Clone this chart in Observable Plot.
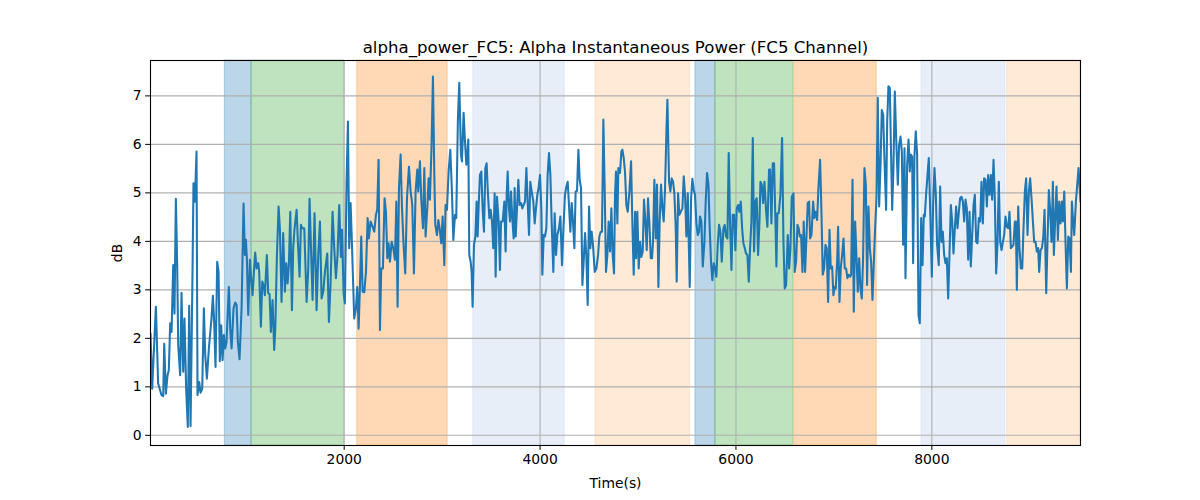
<!DOCTYPE html>
<html><head><meta charset="utf-8">
<script src="https://cdn.jsdelivr.net/npm/d3@7"></script>
<script src="https://cdn.jsdelivr.net/npm/@observablehq/plot@0.6"></script>
<style>body{margin:0;background:#fff;}</style>
</head><body><div id="chart"></div>
<script>
const chartTitle = "alpha_power_FC5: Alpha Instantaneous Power (FC5 Channel)";
const xLabel = "Time(s)";
const yLabel = "dB";
const xTicks = [2000, 4000, 6000, 8000];
const yTicks = [0, 1, 2, 3, 4, 5, 6, 7];

const time = [
22,39,77,100,134,152,162,179,196,209,223,237,254,267,281,295,305,325,339,356,369,386,403,417,431,451,461,475,492,502,519,533,550,567,581,598,618,645,659,672,686,703,717,730,744,758,771,785,798,822,836,850,870,887,901,914,931,952,972,986,996,1006,1020,1037,1047,1064,1078,1091,1105,1122,1132,1149,1163,1176,1190,1210,1224,1238,1251,1268,1285,1296,1313,1330,1343,1360,1377,1394,1408,1422,1435,1449,1466,1479,1493,1514,1527,1544,1558,1571,1592,
1616,1633,1646,1663,1677,1697,1718,1735,1752,1769,1786,1803,1827,1844,1861,1881,1898,1915,1932,1949,1966,1977,1994,2007,2024,2038,2051,2065,2082,2102,2120,2133,2147,2160,2174,2188,2205,2222,2239,2252,2269,2290,2307,2324,2337,2351,2365,2378,2395,2412,2426,2440,2453,2467,2484,2501,2518,2532,2545,2559,2576,2589,2606,2623,2641,2661,2678,2695,2712,2729,2746,2756,2773,2787,2804,2818,2831,2848,2862,2875,2892,2906,2920,2930,2947,2961,2974,2991,3005,3022,3035,3049,3066,3083,3100,3114,3131,3144,3161,3175,
3192,3202,3219,3233,3247,3257,3267,3277,3291,3301,3311,3325,3339,3352,3362,3373,3386,3400,3413,3427,3441,3454,3468,3482,3495,3509,3522,3536,3546,3560,3577,3590,3601,3618,3635,3648,3659,3669,3682,3693,3703,3716,3730,3740,3751,3764,3778,3791,3805,3819,3832,3846,3860,3873,3887,3900,3914,3931,3945,3958,3972,3985,3999,4013,4023,4037,4050,4064,4077,4091,4105,4118,4135,4149,4163,4176,4193,4207,4224,4237,4254,4268,4282,4295,4309,4323,4336,4350,4363,4377,4391,4404,4418,4432,4445,4459,4472,4486,4500,4513,4527,4540,4558,4575,4592,4605,4619,4632,4646,4660,4673,4687,4700,4714,4728,4741,4755,4765,
4775,4789,4799,4816,4830,4840,4854,4867,4881,4895,4912,4929,4942,4956,4970,4980,4993,5007,5021,5034,5048,5061,5075,5089,5102,5116,5130,5143,5153,5167,5181,5194,5208,5221,5235,5249,5262,5276,5290,5300,5317,5330,5344,5358,5371,5385,5395,5409,5422,5436,5453,5467,5480,5494,5508,5518,5528,5542,5555,5569,5582,5596,5610,5623,5633,5647,5661,5678,5691,5705,5719,5732,5746,5759,5773,5787,5800,5814,5828,5841,5855,5872,5885,5899,5913,5926,5940,5954,5967,5981,5994,6008,6022,6035,6049,6063,6076,6090,6103,6117,6131,6144,6158,6172,6185,6199,6212,6226,6240,6250,6263,6277,6291,6308,6321,6338,
6349,6362,6376,6389,6403,6413,6423,6437,6454,6471,6485,6498,6512,6529,6543,6556,6570,6587,6600,6614,6628,6641,6652,6665,6679,6692,6706,6720,6733,6747,6757,6771,6788,6801,6815,6829,6842,6859,6873,6886,6900,6914,6927,6941,6955,6968,6982,6995,7009,7019,7033,7043,7057,7070,7084,7098,7111,7125,7138,7152,7166,7176,7190,7203,7217,7230,7244,7258,7271,7285,7298,7312,7326,7339,7353,7367,7380,7394,7408,7421,7435,7448,7462,7476,7489,7503,7516,7533,7544,7557,7571,7584,7595,7608,7622,7636,7653,7666,7680,7694,7707,7721,7731,7748,7762,7775,7785,7799,7809,7823,7836,7850,7864,7877,7891,7905,7918,
7928,7942,7956,7969,7983,8000,8013,8027,8041,8054,8071,8085,8099,8112,8126,8139,8153,8167,8180,8194,8208,8221,8235,8248,8262,8276,8289,8303,8317,8330,8344,8357,8371,8385,8398,8412,8426,8439,8453,8466,8480,8494,8507,8521,8534,8548,8562,8575,8589,8603,8616,8630,8643,8657,8671,8684,8698,8712,8725,8739,8752,8766,8780,8793,8807,8820,8834,8848,8858,8868,8882,8895,8909,8923,8936,8950,8963,8977,8991,9004,9018,9032,9045,9059,9072,9086,9096,9110,9124,9137,9151,9168,9181,9195,9209,9222,9236,9246,9260,9273,9287,9301,9314,9328,9338,9352,9365,9379,9393,9406,9420,9430,9444,9454,9471,9485,9498,9518
];

const power = [
2.10,0.96,2.65,1.07,0.83,0.81,1.89,0.86,1.24,1.34,2.31,2.13,3.51,2.51,4.88,3.44,1.86,1.24,2.94,1.31,2.41,0.96,0.17,2.67,0.19,3.37,5.20,4.82,5.85,0.83,1.10,0.88,0.96,2.62,1.65,1.17,1.79,2.41,2.88,2.34,1.41,3.58,3.37,1.53,2.27,1.55,2.07,1.79,1.93,3.06,2.20,1.79,2.62,2.74,2.69,1.93,1.57,2.62,4.78,3.72,4.03,3.65,2.48,3.62,3.31,2.89,3.37,3.77,3.44,3.55,3.37,2.24,3.17,3.10,2.89,3.72,2.93,2.91,2.13,2.79,1.76,2.20,3.72,4.72,4.27,2.75,4.17,2.96,3.55,3.13,3.51,4.61,2.58,3.86,4.27,4.65,3.99,3.27,4.34,4.27,4.27,
2.75,3.44,4.88,3.72,2.79,4.58,2.58,3.72,4.41,2.82,2.96,3.37,3.75,2.34,3.17,4.61,3.86,3.24,3.72,4.75,3.68,4.24,2.93,2.72,5.23,6.47,3.86,4.79,3.75,2.41,2.62,3.06,2.20,3.03,4.10,2.96,2.95,3.37,4.48,4.06,4.41,4.30,4.20,4.55,4.65,5.68,2.17,3.44,3.44,4.89,4.61,3.65,3.96,3.58,3.99,3.86,3.62,4.82,2.65,5.10,5.79,4.75,3.93,3.34,4.89,5.54,5.03,4.75,3.34,5.03,5.48,5.03,5.65,4.86,4.27,5.51,4.10,4.68,5.30,4.86,5.99,7.40,5.37,4.34,4.13,4.44,4.27,3.96,4.51,3.51,4.75,4.65,5.44,5.89,5.03,4.03,4.55,4.48,6.54,7.27,
5.79,5.65,6.65,6.06,5.58,5.79,6.10,3.72,3.58,3.37,2.65,3.93,4.10,4.82,4.10,4.75,5.37,5.44,4.68,4.20,5.51,5.61,4.96,4.48,4.65,4.41,3.86,4.99,3.27,4.92,4.41,3.41,4.41,4.41,4.82,3.79,4.96,5.44,4.68,4.41,5.03,4.48,4.06,5.10,4.10,4.68,5.27,4.75,4.79,4.68,4.75,4.82,5.51,4.82,4.13,5.23,5.03,4.82,4.37,4.68,4.96,5.10,5.37,4.68,3.31,4.13,4.10,4.27,5.37,5.82,5.37,4.41,3.37,4.58,3.72,4.13,4.27,4.51,3.51,4.20,4.96,5.13,5.23,4.75,4.20,4.79,4.41,3.86,5.03,5.04,5.89,5.27,5.10,3.10,3.58,4.17,3.72,2.69,4.72,3.86,4.20,3.93,3.37,3.44,3.72,4.10,4.20,4.20,6.51,5.03,3.37,3.72,4.41,3.79,4.68,3.72,3.34,4.96,
5.44,4.37,5.51,5.41,5.85,5.89,5.72,5.44,4.75,4.61,5.03,5.65,4.41,3.31,4.61,3.65,4.61,3.44,3.99,3.68,3.79,4.86,4.41,3.82,4.89,4.37,3.65,3.65,3.99,5.27,4.06,5.17,3.06,4.41,5.17,4.68,4.41,5.10,6.27,6.92,5.23,5.03,5.30,5.23,4.99,4.27,3.17,4.99,4.55,4.61,4.68,5.34,4.96,4.10,4.99,3.99,3.06,4.89,5.29,5.06,4.96,4.37,4.13,4.20,4.51,4.41,3.48,3.99,4.82,5.41,5.17,4.27,3.55,3.20,3.55,3.44,3.27,3.93,4.34,4.20,3.58,4.27,4.34,4.10,4.06,5.82,4.34,3.41,4.55,4.55,3.82,4.68,4.75,4.61,4.82,4.27,3.96,3.86,3.75,3.72,3.17,3.86,4.41,6.13,3.79,4.82,4.89,3.72,4.41,5.23,5.17,4.79,5.23,4.61,4.30,5.48,
5.48,4.37,5.61,5.61,4.41,3.48,4.58,4.58,4.96,6.13,3.99,3.03,3.10,4.13,3.44,3.86,4.92,4.99,3.37,3.58,4.34,4.27,4.10,4.13,3.37,4.41,3.37,4.10,4.79,4.82,4.06,4.13,4.82,4.48,4.61,4.44,5.10,5.68,4.61,3.31,3.44,3.93,3.86,2.75,4.24,3.44,3.48,2.89,3.06,3.03,3.58,4.30,2.75,3.44,3.72,4.06,3.44,3.44,3.24,3.31,3.27,3.31,5.27,2.55,4.41,3.72,2.96,3.65,3.03,2.82,3.65,5.51,5.17,3.10,4.72,3.86,3.58,2.79,3.58,4.27,4.89,6.96,4.72,5.58,6.71,6.61,5.72,4.65,6.47,7.20,7.16,5.79,4.65,5.51,7.09,6.13,5.17,5.99,6.16,5.85,3.93,5.92,3.24,5.58,6.10,5.44,5.79,5.75,3.55,5.79,6.27,5.79,2.48,2.31,4.48,3.51,4.55,
4.51,4.99,5.37,5.72,4.68,3.27,4.75,5.51,4.96,3.93,3.51,5.13,3.99,4.20,3.72,3.55,3.65,2.82,3.72,4.75,4.41,3.75,4.27,4.72,4.27,4.61,4.89,4.92,4.82,4.41,4.86,4.68,3.62,4.61,3.48,4.13,4.75,4.96,3.99,3.96,4.48,4.41,5.23,4.37,5.30,5.27,4.72,5.37,4.96,5.37,4.86,5.68,4.89,3.34,3.99,5.23,3.99,3.82,3.99,4.13,4.51,4.30,4.27,4.61,3.86,3.89,3.93,4.41,4.41,3.00,4.72,3.86,3.44,3.44,4.27,5.03,5.30,4.13,5.03,5.30,4.89,4.41,3.99,3.99,3.79,3.86,3.37,3.82,3.86,4.06,4.65,2.93,3.99,5.06,4.61,3.99,5.23,3.72,4.48,5.13,4.03,4.82,4.37,4.82,4.41,5.03,3.99,3.03,4.10,4.06,3.37,4.82,4.37,4.13,4.82,5.17,5.51,4.82
];

const spanStart = [781, 1054, 2133, 3318, 4565, 5586, 5790, 6594, 7894, 8770];
const spanEnd   = [1054, 2000, 3056, 4251, 5531, 5790, 6584, 7438, 8752, 9518];
const spanState = ["s1", "s2", "s3", "s4", "s5", "s1", "s2", "s3", "s4", "s5"];
const stateOrder = ["s1", "s2", "s3", "s4", "s5"];
const stateColors = ["#1f77b4", "#2ca02c", "#ff7f0e", "#aec7e8", "#ffbb78"];

const n = Math.min(time.length, power.length);
const series = d3.range(n).map(i => ({t: time[i], v: power[i]}));
const spans = spanStart.map((s, i) => ({s, e: spanEnd[i], state: spanState[i]}));

const chart = Plot.plot({
  width: 1200,
  height: 500,
  marginLeft: 150,
  marginRight: 120,
  marginTop: 60,
  marginBottom: 55,
  style: {fontFamily: "DejaVu Sans, sans-serif", fontSize: "13.9px", color: "black", background: "white"},
  x: {domain: [22, 9518]},
  y: {domain: [-0.21, 7.73]},
  color: {type: "ordinal", domain: stateOrder, range: stateColors},
  marks: [
    Plot.barX(spans, {x1: "s", x2: "e", fill: "state", fillOpacity: 0.3, stroke: "state", strokeOpacity: 0.3, strokeWidth: 1}),
    Plot.gridX(xTicks, {stroke: "#b0b0b0", strokeOpacity: 1, strokeWidth: 1.1}),
    Plot.gridY(yTicks, {stroke: "#b0b0b0", strokeOpacity: 1, strokeWidth: 1.1}),
    Plot.line(series, {x: "t", y: "v", stroke: "#1f77b4", strokeWidth: 2.08, clip: true}),
    Plot.axisX(xTicks, {tickSize: 4.86, tickPadding: 4, fontSize: 13.9, label: xLabel, labelAnchor: "center", labelArrow: "none", labelOffset: 42, tickFormat: d => String(d)}),
    Plot.axisY(yTicks, {tickSize: 4.86, tickPadding: 4, fontSize: 13.9, label: yLabel, labelAnchor: "center", labelArrow: "none", labelOffset: 38, tickFormat: d => String(d)}),
    Plot.frame({stroke: "black", strokeWidth: 1.1}),
    Plot.text([chartTitle], {frameAnchor: "top", dy: -19, fontSize: 16.6, text: d => d, fill: "black"})
  ]
});
document.getElementById("chart").appendChild(chart);
</script>
</body></html>
